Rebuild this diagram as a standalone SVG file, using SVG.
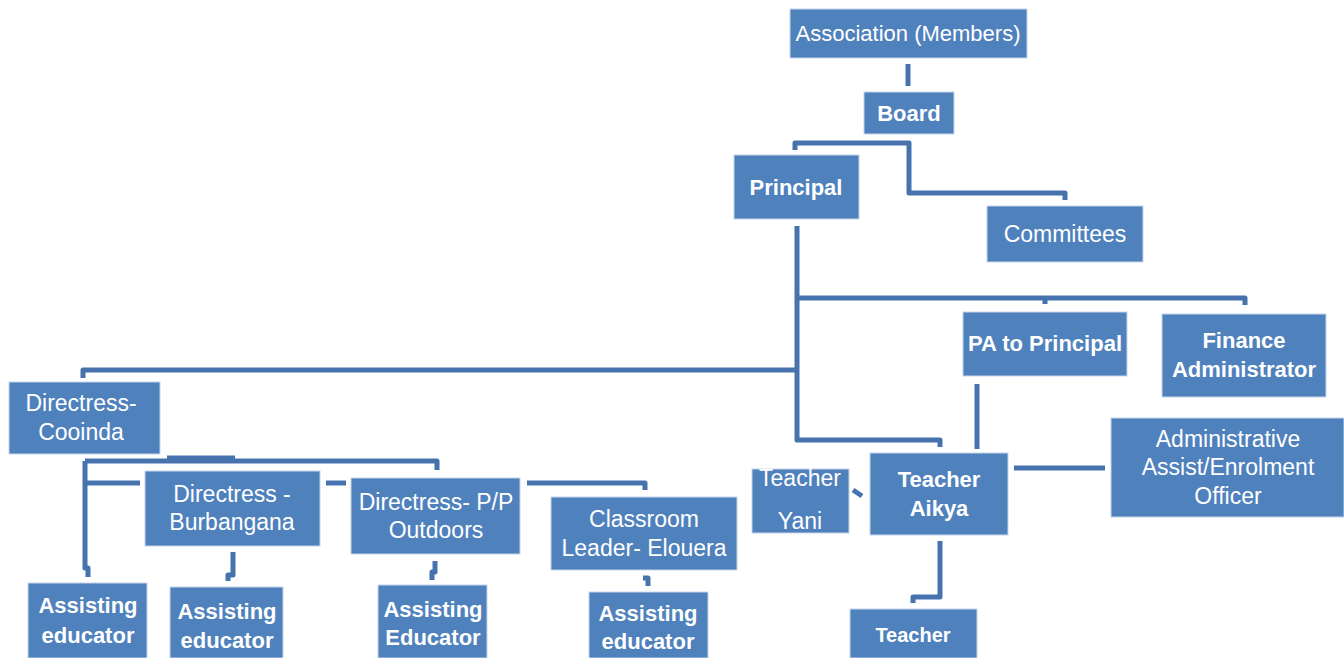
<svg xmlns="http://www.w3.org/2000/svg" width="1344" height="658" viewBox="0 0 1344 658">
<style>
.b{fill:#4F81BD;stroke:#C6D6EA;stroke-width:1}
.t{font-family:"Liberation Sans",Arial,sans-serif;font-size:23px;fill:#fff;text-anchor:middle}
.tb{font-family:"Liberation Sans",Arial,sans-serif;font-size:22px;font-weight:bold;fill:#fff;text-anchor:middle}
.c{fill:none;stroke:#4672AE;stroke-width:5;stroke-linejoin:round}
</style>
<rect width="1344" height="658" fill="#fff"/>
<g id="connectors">
<path class="c" d="M908 64V86" stroke="#3D6699"/>
<path class="c" d="M795 150V143H909V193H1065V200"/>
<path class="c" d="M797 226V440H940V447"/>
<path class="c" d="M797 298H1245V305M1045 298V304"/>
<path class="c" d="M797 370H83V378"/>
<path class="c" d="M977 384V449"/>
<path class="c" d="M1014 468H1105"/>
<path class="c" d="M853 490L862 496"/>
<path class="c" d="M940 541V597H913V603"/>
<path class="c" d="M85 461H437V470M167 458H235"/>
<path class="c" d="M85 461V568H88V577"/>
<path class="c" d="M85 483H140M326 483H346"/>
<path class="c" d="M527 483H645V490"/>
<path class="c" d="M233 552V575H228V581"/>
<path class="c" d="M435 561V572H432V580"/>
<path class="c" d="M643 578H648V586"/>
</g>
<g id="n-association"><rect class="b" x="790" y="9" width="237" height="49"/><text class="t" x="908" y="41" style="font-size:22px">Association (Members)</text></g>
<g id="n-board"><rect class="b" x="864" y="92" width="90" height="42"/><text class="tb" x="909" y="121">Board</text></g>
<g id="n-principal"><rect class="b" x="734" y="155" width="125" height="64"/><text class="tb" x="796" y="195">Principal</text></g>
<g id="n-committees"><rect class="b" x="987" y="206" width="156" height="56"/><text class="t" x="1065" y="242">Committees</text></g>
<g id="n-pa"><rect class="b" x="963" y="312" width="164" height="64"/><text class="tb" x="1045" y="351">PA to Principal</text></g>
<g id="n-finance"><rect class="b" x="1162" y="314" width="164" height="83"/><text class="tb" x="1244" y="348">Finance</text><text class="tb" x="1244" y="377">Administrator</text></g>
<g id="n-cooinda"><rect class="b" x="9" y="382" width="151" height="72"/><text class="t" x="81" y="411">Directress-</text><text class="t" x="81" y="440">Cooinda</text></g>
<g id="n-admin"><rect class="b" x="1111" y="418" width="233" height="99"/><text class="t" x="1228" y="447">Administrative</text><text class="t" x="1228" y="475">Assist/Enrolment</text><text class="t" x="1228" y="504">Officer</text></g>
<g id="n-aikya"><rect class="b" x="870" y="453" width="138" height="82"/><text class="tb" x="939" y="487">Teacher</text><text class="tb" x="939" y="516">Aikya</text></g>
<g id="n-yani"><rect class="b" x="752" y="469" width="97" height="64"/><text class="t" x="800" y="486">Teacher</text><text class="t" x="800" y="529">Yani</text></g>
<g id="n-burbangana"><rect class="b" x="145" y="471" width="175" height="75"/><text class="t" x="232" y="502">Directress -</text><text class="t" x="232" y="530">Burbangana</text></g>
<g id="n-outdoors"><rect class="b" x="351" y="478" width="169" height="76"/><text class="t" x="436" y="510">Directress- P/P</text><text class="t" x="436" y="538">Outdoors</text></g>
<g id="n-elouera"><rect class="b" x="551" y="497" width="186" height="73"/><text class="t" x="644" y="527">Classroom</text><text class="t" x="644" y="556">Leader- Elouera</text></g>
<g id="n-ae1"><rect class="b" x="28" y="583" width="119" height="75"/><text class="tb" x="88" y="613">Assisting</text><text class="tb" x="88" y="643">educator</text></g>
<g id="n-ae2"><rect class="b" x="170" y="587" width="113" height="71"/><text class="tb" x="227" y="619">Assisting</text><text class="tb" x="227" y="648">educator</text></g>
<g id="n-ae3"><rect class="b" x="378" y="585" width="109" height="73"/><text class="tb" x="433" y="617">Assisting</text><text class="tb" x="433" y="645">Educator</text></g>
<g id="n-ae4"><rect class="b" x="589" y="592" width="119" height="66"/><text class="tb" x="648" y="621">Assisting</text><text class="tb" x="648" y="649">educator</text></g>
<g id="n-teacher"><rect class="b" x="850" y="609" width="127" height="49"/><text class="tb" x="913" y="642" style="font-size:20px">Teacher</text></g>
</svg>
